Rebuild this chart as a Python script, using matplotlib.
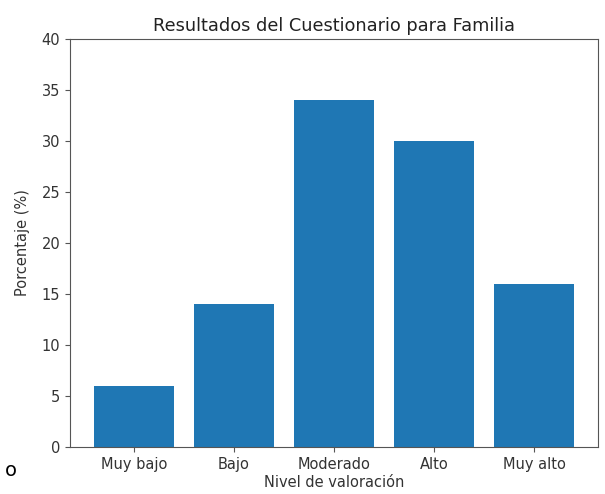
import matplotlib
matplotlib.use("Agg")
import matplotlib.pyplot as plt

categories = ["Muy bajo", "Bajo", "Moderado", "Alto", "Muy alto"]
values = [6, 14, 34, 30, 16]

fig = plt.figure(figsize=(6.05, 4.94), dpi=100)
ax = fig.add_axes([70/605, 1-447/494, (598-70)/605, (447-39)/494])
ax.bar(categories, values, color="#1f77b4")
ax.set_ylim(0, 40)
ax.set_title("Resultados del Cuestionario para Familia", fontsize=12.8, color="#222222")
ax.set_xlabel("Nivel de valoración", fontsize=10.5, color="#333333", labelpad=2)
ax.set_ylabel("Porcentaje (%)", fontsize=10.5, color="#333333", labelpad=8)
ax.tick_params(labelsize=10.5, labelcolor="#333333", color="#555555")
for s in ax.spines.values():
    s.set_color("#555555")
fig.text(5/605, 1-470/494, "o", fontsize=14, color="black", va="center", ha="left")
fig.savefig("out.png", dpi=100)
